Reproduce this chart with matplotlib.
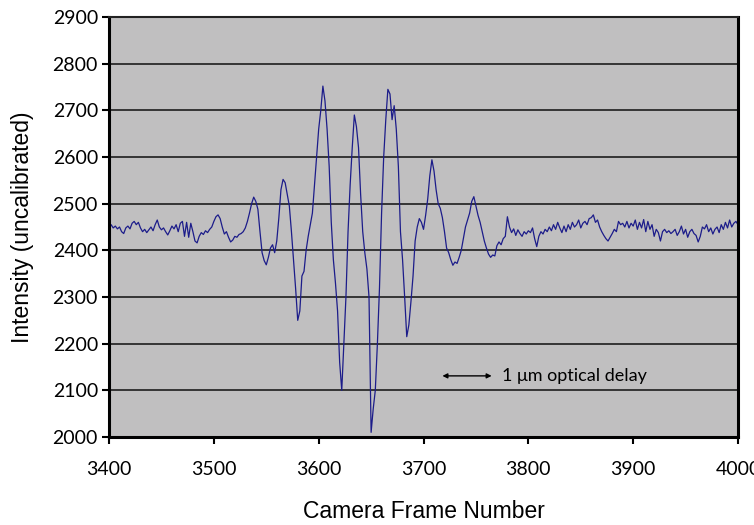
import matplotlib
matplotlib.use("Agg")
import matplotlib.pyplot as plt
import numpy as np

# camera frames, sampled every 2 frames
frames = np.arange(3400, 4001, 2)

intensity = [
    2445, 2455, 2448, 2452, 2446, 2450, 2440, 2436, 2448, 2452,
    2446, 2458, 2462, 2455, 2460, 2448, 2440, 2445, 2438, 2444,
    2450, 2442, 2455, 2465, 2450, 2444, 2448, 2440, 2433, 2442,
    2452, 2446, 2455, 2440, 2458, 2462, 2430, 2460, 2428, 2458,
    2440, 2420, 2416, 2430, 2438, 2434, 2442, 2438, 2445, 2450,
    2462, 2472, 2476, 2468, 2450, 2435, 2440, 2428, 2418, 2422,
    2430, 2428, 2434, 2436, 2440, 2448, 2462, 2480, 2500, 2514,
    2505, 2488, 2440, 2395, 2378, 2369, 2385, 2405, 2412, 2395,
    2420, 2470, 2530, 2552, 2545, 2520, 2495, 2440, 2380, 2318,
    2250, 2270, 2345, 2355, 2400, 2430, 2455, 2480, 2540, 2600,
    2660, 2700, 2752, 2720, 2660, 2580, 2460, 2380, 2330, 2270,
    2160, 2100, 2200, 2300, 2440, 2540, 2620, 2690, 2665, 2620,
    2520, 2440, 2395, 2360, 2300, 2010, 2060, 2100, 2200, 2320,
    2480, 2600, 2680, 2745, 2735, 2680, 2710, 2660, 2580, 2440,
    2380, 2300, 2215, 2240, 2290, 2345, 2420, 2450, 2468, 2460,
    2445, 2475, 2510, 2560, 2594, 2570, 2530, 2500, 2490, 2470,
    2440, 2405, 2395, 2380, 2368, 2375, 2372, 2385, 2400, 2425,
    2450, 2465, 2480, 2505, 2515, 2495, 2475, 2460, 2440, 2420,
    2405, 2392, 2385, 2390, 2388, 2410, 2418, 2412, 2425, 2430,
    2472, 2450, 2438, 2446, 2432, 2444, 2436, 2430, 2440, 2435,
    2442, 2438, 2448, 2425, 2408, 2430, 2440, 2435, 2445, 2440,
    2450, 2442, 2455, 2445, 2460, 2448, 2438, 2452, 2440, 2455,
    2445, 2460, 2450, 2455, 2465, 2448, 2458, 2462, 2455, 2468,
    2470, 2476, 2460, 2465, 2450, 2440, 2432, 2425, 2420, 2428,
    2436, 2445, 2440, 2462, 2455, 2458, 2450, 2462, 2448, 2458,
    2452, 2465, 2445, 2460, 2448, 2466, 2440, 2462, 2445, 2455,
    2430, 2445, 2438, 2420, 2440, 2445, 2438, 2442, 2436, 2440,
    2445, 2432, 2440, 2452, 2435, 2445, 2428, 2440, 2445, 2436,
    2432, 2418, 2430, 2450, 2446, 2455, 2440, 2448, 2435, 2445,
    2450, 2438, 2455, 2445, 2460, 2448, 2465, 2450, 2458, 2462,
    2455,
]

y_ticks = np.arange(2000, 2901, 100)
x_ticks = np.arange(3400, 4001, 100)

# 1 um optical delay marker
delay_start, delay_end, delay_y = 3718, 3765, 2131
delay_label = "1 \u03bcm optical delay"

tick_font = ["Lato", "DejaVu Sans"]
label_font = ["Liberation Sans", "DejaVu Sans"]

fig = plt.figure(figsize=(7.54, 5.25), dpi=100)
ax = fig.add_axes([0.1446, 0.1676, 0.8342, 0.8])
ax.set_facecolor("#c0bfc0")

ax.plot(frames, intensity, color="#1c1c8a", lw=0.9)

ax.set_xlim(3400, 4000)
ax.set_ylim(2000, 2900)
ax.set_xticks(x_ticks)
ax.set_yticks(y_ticks)
ax.yaxis.grid(True, color="#2a2a2a", lw=1.3)
ax.set_axisbelow(True)

for side in ["left", "bottom", "right"]:
    ax.spines[side].set_linewidth(2.2)
    ax.spines[side].set_color("black")
ax.spines["top"].set_linewidth(1.5)
ax.spines["top"].set_color("#222222")

ax.tick_params(axis="y", direction="out", length=5, width=1.5, pad=3)
ax.tick_params(axis="x", direction="out", length=5, width=1.5, pad=12)
for lab in ax.get_xticklabels() + ax.get_yticklabels():
    lab.set_family(tick_font)
    lab.set_fontsize(14)

ax.set_xlabel("Camera Frame Number", family=label_font, fontsize=16.5, labelpad=16)
ax.set_ylabel("Intensity (uncalibrated)", family=label_font, fontsize=16.5, labelpad=13)

ax.annotate("", xy=(delay_start, delay_y), xytext=(delay_end, delay_y),
            arrowprops=dict(arrowstyle="<|-|>", color="black", lw=1.0,
                            mutation_scale=7, shrinkA=0, shrinkB=0))
ax.text(delay_end + 10, delay_y, delay_label, family=tick_font, fontsize=13,
        ha="left", va="center")

fig.savefig("out.png", dpi=100)
